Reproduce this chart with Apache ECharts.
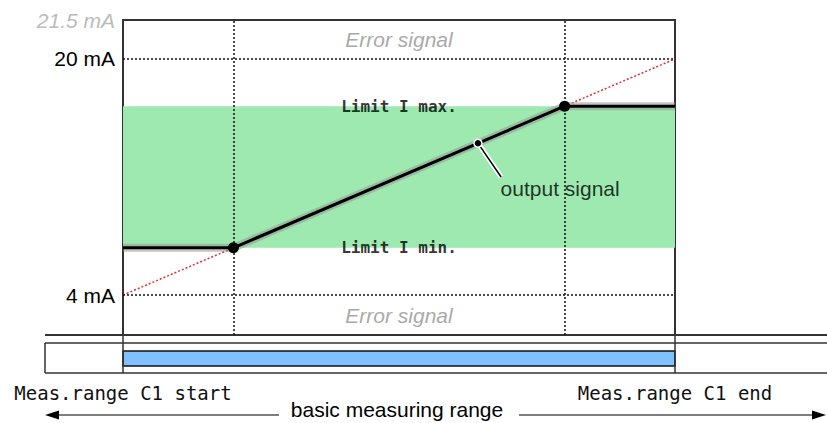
<!DOCTYPE html>
<html>
<head>
<meta charset="utf-8">
<script src="https://cdn.jsdelivr.net/npm/echarts@6/dist/echarts.min.js"></script>
<style>
html, body { margin: 0; padding: 0; background: #fff; }
#main { width: 827px; height: 423px; }
</style>
</head>
<body>
<div id="main"></div>
<script>
// x: position in measuring range (%), y: output current (mA)
var rangeX = [0, 100]
var idealX = [0, 100]
var idealY = [4, 20]
var outX = [0, 20, 80, 100]
var outY = [7.2, 7.2, 16.8, 16.8]
var kneeX = [20, 80]
var kneeY = [7.2, 16.8]
var limitNames = ['Limit I min.', 'Limit I max.']
var yTicks = [4, 20]
var errorBands = [[20, 22.64], [1.29, 4]]
var probe = [64.3, 14.29]
var probeEnd = [68.5, 12.0]

var sans = 'Liberation Sans'
var mono = 'DejaVu Sans Mono'

// lower strip axis: same scale as the plot (5.52 px per %), starting left of it
var stripMin = -14.13
var stripMax = 127.54

function zip (a, b) {
  return a.map(function (v, i) { return [v, b[i]] })
}

var myChart = echarts.init(document.getElementById('main'), null, { renderer: 'svg' })

var option = {
  animation: false,
  grid: [
    { left: 123, top: 20, width: 552, height: 315, show: true, borderColor: '#333', borderWidth: 2, backgroundColor: 'transparent' },
    { left: 45, top: 343, right: 0, height: 30, show: false }
  ],
  xAxis: [
    { gridIndex: 0, type: 'value', min: 0, max: 100, show: false },
    {
      gridIndex: 1,
      type: 'value',
      min: stripMin,
      max: stripMax,
      axisLine: { show: false },
      axisTick: { show: false },
      splitLine: { show: false },
      axisLabel: {
        customValues: rangeX,
        margin: 10,
        fontFamily: mono,
        fontSize: 19,
        color: '#111',
        formatter: function (v) {
          return v === rangeX[0] ? 'Meas.range C1 start' : 'Meas.range C1 end'
        }
      }
    }
  ],
  yAxis: [
    {
      gridIndex: 0,
      type: 'value',
      min: 1.29,
      max: 22.64,
      name: '21.5 mA',
      nameLocation: 'end',
      nameGap: 0,
      nameTextStyle: {
        align: 'right',
        verticalAlign: 'middle',
        padding: [0, 8, 0, 0],
        fontFamily: sans,
        fontStyle: 'italic',
        fontSize: 21,
        color: '#bbb'
      },
      axisLine: { show: false },
      axisTick: { show: false },
      splitLine: { show: false },
      axisLabel: {
        customValues: yTicks,
        margin: 8,
        fontFamily: sans,
        fontSize: 21,
        color: '#000',
        formatter: '{value} mA'
      }
    },
    { gridIndex: 1, type: 'value', min: 0, max: 30, show: false }
  ],
  series: [
    {
      // allowed band between the limits
      type: 'line',
      data: [],
      silent: true,
      markArea: {
        silent: true,
        itemStyle: { color: '#9de9b0' },
        data: [[{ yAxis: kneeY[0] }, { yAxis: kneeY[1] }]]
      }
    },
    {
      // error zones
      type: 'line',
      data: [],
      silent: true,
      markArea: {
        silent: true,
        itemStyle: { color: 'rgba(0,0,0,0)' },
        label: {
          show: true,
          position: 'inside',
          fontFamily: sans,
          fontStyle: 'italic',
          fontSize: 21,
          color: '#aaa'
        },
        data: errorBands.map(function (b) {
          return [{ yAxis: b[0], name: 'Error signal' }, { yAxis: b[1] }]
        })
      }
    },
    {
      // dotted helper lines
      type: 'line',
      data: [],
      silent: true,
      markLine: {
        silent: true,
        symbol: ['none', 'none'],
        label: { show: false },
        lineStyle: { color: '#111', type: [2, 2], width: 1.5 },
        data: kneeX.map(function (x) { return { xAxis: x } })
          .concat(yTicks.map(function (y) { return { yAxis: y } }))
      }
    },
    {
      // ideal 4..20 mA line
      type: 'line',
      data: zip(idealX, idealY),
      symbol: 'none',
      lineStyle: { color: '#e03030', type: [2, 2], width: 1.5 }
    },
    {
      type: 'line',
      data: zip(outX, outY),
      symbol: 'none',
      lineStyle: { color: 'rgba(150,150,150,0.55)', width: 8 }
    },
    {
      type: 'line',
      data: zip(outX, outY),
      symbol: 'none',
      lineStyle: { color: '#000', width: 3 }
    },
    {
      type: 'scatter',
      data: zip(kneeX, kneeY),
      symbolSize: 11,
      z: 10,
      itemStyle: { color: '#000', opacity: 1 }
    },
    {
      // callout line
      type: 'line',
      data: [probe, probeEnd],
      symbol: 'none',
      z: 8,
      lineStyle: { color: '#fff', width: 5 }
    },
    {
      type: 'line',
      data: [probe, probeEnd],
      symbol: 'none',
      z: 9,
      lineStyle: { color: '#000', width: 1.5 }
    },
    {
      type: 'scatter',
      data: [probe],
      symbolSize: 8,
      z: 10,
      itemStyle: { color: '#000', borderColor: '#fff', borderWidth: 1.5, opacity: 1 }
    },
    {
      type: 'scatter',
      data: [probeEnd],
      symbolSize: 1,
      itemStyle: { color: 'rgba(0,0,0,0)' },
      label: {
        show: true,
        position: [0, 2],
        align: 'left',
        verticalAlign: 'top',
        fontFamily: sans,
        fontSize: 21,
        color: '#000',
        formatter: 'output signal'
      }
    },
    {
      // limit labels
      type: 'scatter',
      symbolSize: 0,
      data: kneeY.map(function (y, i) {
        return { value: [(rangeX[0] + rangeX[1]) / 2, y], name: limitNames[i] }
      }),
      label: {
        show: true,
        position: 'inside',
        fontFamily: mono,
        fontWeight: 'bold',
        fontSize: 16,
        color: '#000',
        formatter: '{b}'
      }
    },
    {
      // basic measuring range bar and the strip box
      type: 'line',
      xAxisIndex: 1,
      yAxisIndex: 1,
      data: [],
      silent: true,
      markArea: {
        silent: true,
        itemStyle: { color: '#80c0ff', borderColor: '#111', borderWidth: 1.5, borderType: 'solid' },
        data: [[{ xAxis: rangeX[0], yAxis: 7 }, { xAxis: rangeX[1], yAxis: 22 }]]
      },
      markLine: {
        silent: true,
        symbol: ['none', 'none'],
        label: { show: false },
        lineStyle: { color: '#333', type: 'solid', width: 1.5 },
        data: rangeX.map(function (x) { return { xAxis: x } })
          .concat([{ xAxis: stripMin }, { yAxis: 0 }, { yAxis: 30 }])
      }
    }
  ]
}

myChart.setOption(option)

// connecting lines and range arrows
var p0 = myChart.convertToPixel({ gridIndex: 0 }, [rangeX[0], 1.29])
var p1 = myChart.convertToPixel({ gridIndex: 0 }, [rangeX[1], 1.29])
var ay = 415
myChart.setOption({
  graphic: [
    { type: 'line', shape: { x1: 45, y1: 335, x2: 827, y2: 335 }, style: { stroke: '#333', lineWidth: 2 } },
    { type: 'line', shape: { x1: p0[0], y1: 335, x2: p0[0], y2: 343 }, style: { stroke: '#333', lineWidth: 1.5 } },
    { type: 'line', shape: { x1: p1[0], y1: 335, x2: p1[0], y2: 343 }, style: { stroke: '#333', lineWidth: 1.5 } },
    { type: 'line', shape: { x1: 56, y1: ay, x2: 279, y2: ay }, style: { stroke: '#000', lineWidth: 1.2 } },
    { type: 'polygon', shape: { points: [[45, ay], [59, ay - 4.5], [59, ay + 4.5]] }, style: { fill: '#000' } },
    { type: 'line', shape: { x1: 519, y1: ay, x2: 814, y2: ay }, style: { stroke: '#000', lineWidth: 1.2 } },
    { type: 'polygon', shape: { points: [[826, ay], [812, ay - 4.5], [812, ay + 4.5]] }, style: { fill: '#000' } },
    {
      type: 'text',
      x: 397,
      y: 409,
      style: {
        text: 'basic measuring range',
        align: 'center',
        verticalAlign: 'middle',
        font: '21px "Liberation Sans"',
        fill: '#000'
      }
    }
  ]
})
</script>
</body>
</html>
